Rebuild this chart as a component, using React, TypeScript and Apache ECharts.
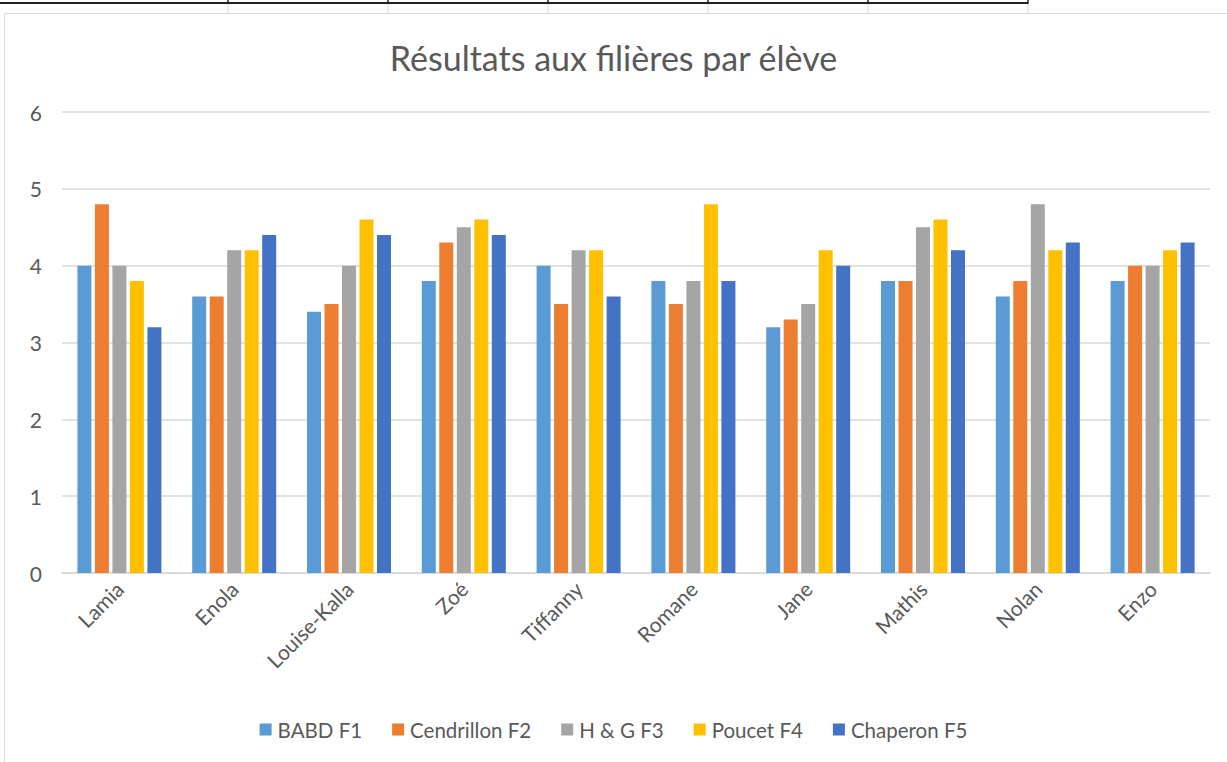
import React, { useEffect, useRef } from "react";
import * as echarts from "echarts";

const students = ["Lamia", "Enola", "Louise-Kalla", "Zoé", "Tiffanny", "Romane", "Jane", "Mathis", "Nolan", "Enzo"];
const seriesNames = ["BABD F1", "Cendrillon F2", "H & G F3", "Poucet F4", "Chaperon F5"];
const babd = [4.0, 3.6, 3.4, 3.8, 4.0, 3.8, 3.2, 3.8, 3.6, 3.8];
const cendrillon = [4.8, 3.6, 3.5, 4.3, 3.5, 3.5, 3.3, 3.8, 3.8, 4.0];
const hg = [4.0, 4.2, 4.0, 4.5, 4.2, 3.8, 3.5, 4.5, 4.8, 4.0];
const poucet = [3.8, 4.2, 4.6, 4.6, 4.2, 4.8, 4.2, 4.6, 4.2, 4.2];
const chaperon = [3.2, 4.4, 4.4, 4.4, 3.6, 3.8, 4.0, 4.2, 4.3, 4.3];
const colors = ["#5B9BD5", "#ED7D31", "#A5A5A5", "#FFC000", "#4472C4"];
const tableCols = [228, 388, 548, 708, 868, 1028];

export default function App() {
  const ref = useRef<HTMLDivElement>(null);
  useEffect(() => {
    const chart = echarts.init(ref.current!, null, { renderer: "svg" });
    const data = [babd, cendrillon, hg, poucet, chaperon];
    const font = "Lato, 'Open Sans', sans-serif";
    const graphics: any[] = [
      { type: "rect", shape: { x: 4.5, y: 13.5, width: 1240, height: 800 }, style: { fill: "none", stroke: "#d9d9d9", lineWidth: 1 }, z: -1 },
      { type: "line", shape: { x1: 0, y1: 3, x2: 1028, y2: 3 }, style: { stroke: "#222", lineWidth: 2 } },
    ];
    tableCols.forEach((x) => {
      graphics.push({ type: "line", shape: { x1: x, y1: 0, x2: x, y2: 4 }, style: { stroke: "#222", lineWidth: 1.5 } });
      graphics.push({ type: "line", shape: { x1: x, y1: 4, x2: x, y2: 13 }, style: { stroke: "#d9d9d9", lineWidth: 1 } });
    });
    chart.setOption({
      animation: false,
      textStyle: { fontFamily: font },
      title: {
        text: "Résultats aux filières par élève",
        left: "center",
        top: 35,
        textStyle: { fontSize: 34, fontWeight: "normal", color: "#595959", fontFamily: font },
      },
      legend: {
        top: 714,
        left: "center",
        itemWidth: 12,
        itemHeight: 12,
        itemGap: 30,
        icon: "rect",
        textStyle: { fontSize: 20.5, color: "#595959", fontFamily: font, padding: [0, 0, 0, 1] },
        data: seriesNames,
      },
      grid: { left: 62, right: 17, top: 112, bottom: 189, containLabel: false },
      xAxis: {
        type: "category",
        data: students,
        axisLine: { lineStyle: { color: "#d9d9d9", width: 1.5 } },
        axisTick: { show: false },
        axisLabel: { rotate: 45, fontSize: 21, color: "#595959", margin: 12, interval: 0, fontFamily: font },
      },
      yAxis: {
        type: "value",
        min: 0,
        max: 6,
        interval: 1,
        axisLine: { show: false },
        axisTick: { show: false },
        axisLabel: { fontSize: 21, color: "#595959", margin: 20, fontFamily: font },
        splitLine: { lineStyle: { color: "#d9d9d9", width: 1.5 } },
      },
      series: seriesNames.map((name, i) => ({
        name,
        type: "bar",
        data: data[i],
        barWidth: 14,
        barGap: "25%",
        itemStyle: { color: colors[i] },
      })),
      graphic: graphics,
    });
    return () => chart.dispose();
  }, []);
  return <div ref={ref} style={{ position: "absolute", left: 0, top: 0, width: 1227, height: 762, background: "#fff" }} />;
}
